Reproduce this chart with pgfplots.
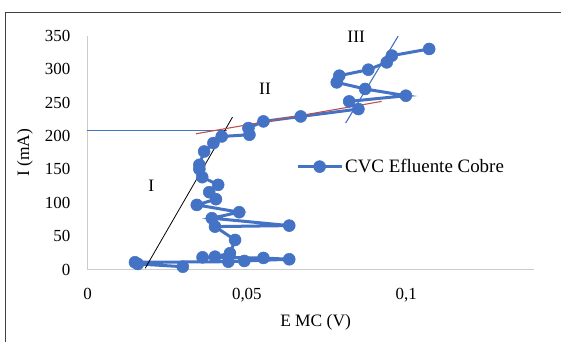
\documentclass[border=0pt]{standalone}
\usepackage{pgfplots}
\pgfplotsset{compat=1.18}
\usepackage{fontspec}
\setmainfont{Liberation Serif}
\definecolor{exblue}{RGB}{68,114,196}
\definecolor{exred}{RGB}{192,80,77}
\begin{document}
\begin{tikzpicture}
\useasboundingbox (-87.5bp,-72.5bp) rectangle (473.5bp,269.5bp);
\draw[black!75, line width=1bp] (-81.5bp,-72.5bp) -- (-81.5bp,256.8bp) -- (473.5bp,256.8bp);
\begin{axis}[
  at={(0,0)}, anchor=south west,
  scale only axis, width=446.2bp, height=233.5bp,
  xmin=0, xmax=0.14, ymin=0, ymax=350,
  axis lines*=left,
  axis line style={draw=black!20, line width=1bp},
  major tick length=0pt,
  tick style={draw=none},
  xtick={0,0.05,0.1}, xticklabels={0,{0,05},{0,1}},
  ytick={0,50,...,350},
  /pgf/number format/assume math mode=true,
  scaled x ticks=false,
  tick label style={font=\fontsize{17}{17}\selectfont, inner sep=0pt},
  xticklabel style={anchor=north, yshift=-18.5bp},
  yticklabel style={anchor=east, xshift=-17bp},
  xlabel={E MC (V)}, ylabel={I (mA)},
  every axis x label/.style={at={([xshift=5bp,yshift=-52.5bp]rel axis cs:0.5,0)}, anchor=center, font=\fontsize{17.5}{17.5}\selectfont},
  every axis y label/.style={at={([xshift=-62.5bp]rel axis cs:0,0.5)}, anchor=center, rotate=90, font=\fontsize{17.5}{17.5}\selectfont},
  legend style={at={(axis cs:0.0654,154.2)}, anchor=west, draw=none, fill=none,
    font=\fontsize{19}{19}\selectfont, inner sep=0pt, row sep=0pt},
  legend image code/.code={
    \draw[#1, mark=none] (0bp,0bp) -- (44bp,0bp);
    \path[#1] plot coordinates {(22bp,0bp)};
  },
  clip=false,
]
\addplot[color=exblue, line width=3bp, mark=*, mark size=6bp, mark options={fill=exblue, draw=exblue, line width=0.5bp, solid}] coordinates {
(0.0299,4.2)
(0.0158,8.3)
(0.0149,10.8)
(0.0442,11.7)
(0.0492,12.8)
(0.0633,15.3)
(0.0552,17.3)
(0.0361,18.3)
(0.0400,19.2)
(0.0447,24.3)
(0.0463,44.3)
(0.0400,64.3)
(0.0633,65.8)
(0.0390,76.9)
(0.0476,85.9)
(0.0343,96.8)
(0.0403,105.4)
(0.0382,115.9)
(0.0410,126.9)
(0.0360,138.4)
(0.0351,150.5)
(0.0351,156.9)
(0.0366,176.9)
(0.0395,189.5)
(0.0421,199.4)
(0.0508,202.0)
(0.0505,212.0)
(0.0552,222.0)
(0.0669,229.4)
(0.0850,240.5)
(0.0821,252.0)
(0.0999,260.5)
(0.0871,270.6)
(0.0782,280.5)
(0.0790,290.5)
(0.0881,299.5)
(0.0939,310.5)
(0.0955,320.6)
(0.1072,330.6)
};
\addlegendentry{CVC Efluente Cobre}
\addplot[forget plot, color=exblue, line width=1.3bp] coordinates {(0,208.4) (0.0437,208.4)};
\addplot[forget plot, color=black, line width=0.8bp] coordinates {(0.0181,1.8) (0.0455,228.5)};
\addplot[forget plot, color=exred, line width=1.1bp] coordinates {(0.0340,203.4) (0.0923,252.0)};
\addplot[forget plot, color=exblue, line width=1.1bp] coordinates {(0.0810,219.5) (0.0975,350.0)};
\node[font=\fontsize{17.5}{17.5}\selectfont] at (axis cs:0.0200,125) {I};
\node[font=\fontsize{17.5}{17.5}\selectfont] at (axis cs:0.0557,270.6) {II};
\node[font=\fontsize{17.5}{17.5}\selectfont] at (axis cs:0.0843,349.5) {III};
\end{axis}
\end{tikzpicture}
\end{document}
